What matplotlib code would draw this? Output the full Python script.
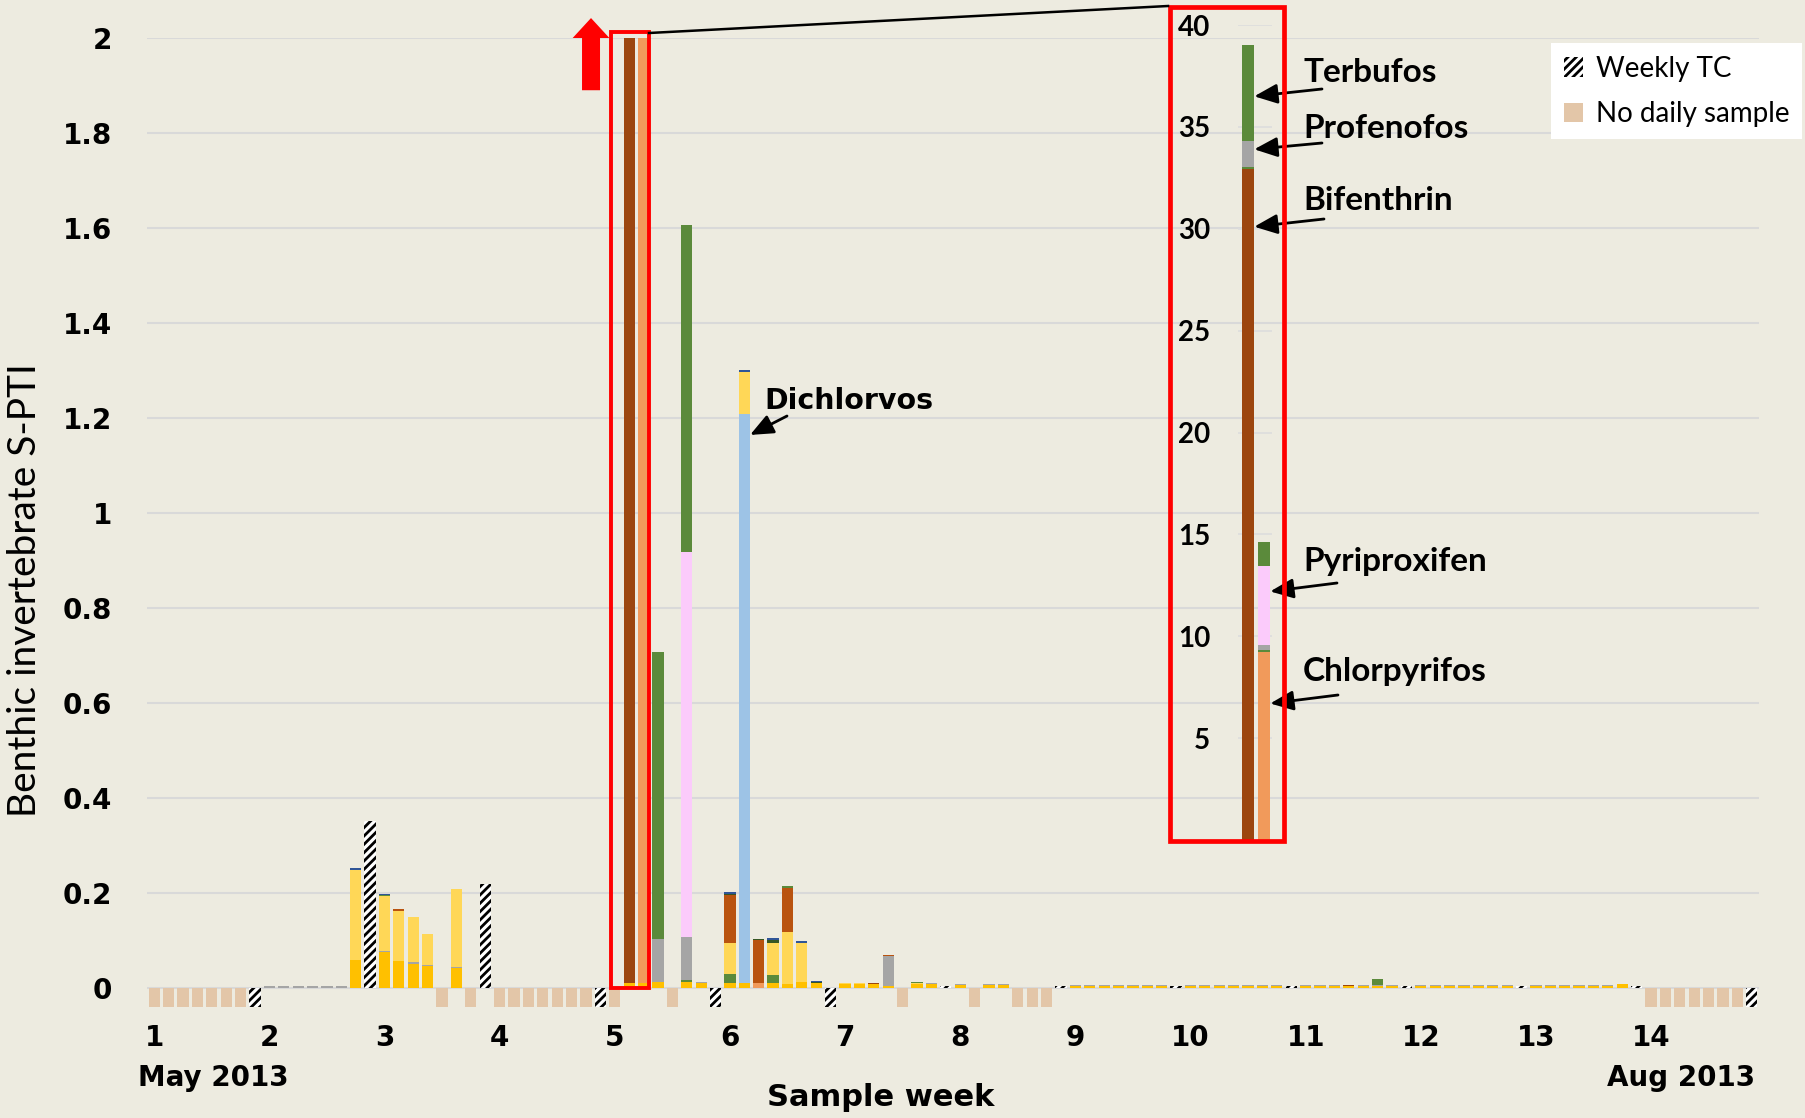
import numpy as np
import matplotlib
matplotlib.use('Agg')

import matplotlib.pyplot as plt
from matplotlib.patches import Rectangle, FancyArrow, Patch
from matplotlib.lines import Line2D

# ==========================
# Dados: 8 posições por semana (7 dias + TC semanal)
# ==========================
n_slots = 112
week_labels = ["1", "2", "3", "4", "5", "6", "7", "8", "9", "10", "11", "12", "13", "14"]
week_pos = [0, 8, 16, 24, 32, 40, 48, 56, 64, 72, 80, 88, 96, 104]

no_sample = [0, 1, 2, 3, 4, 5, 6, 20, 22, 24, 25, 26, 27, 28, 29, 30, 32, 36,
             52, 57, 60, 61, 62, 104, 105, 106, 107, 108, 109, 110]
tc_missing = [7, 31, 39, 47, 111]
tc_values = {15: 0.351, 23: 0.219, 55: 0.004, 63: 0.004, 71: 0.004,
             79: 0.004, 87: 0.004, 95: 0.004, 103: 0.004}

# dias das semanas 9-13 com valores muito baixos
trace_days = [64, 65, 66, 67, 68, 69, 70, 72, 73, 74, 75, 76, 77, 78,
              80, 81, 82, 83, 84, 85, 86, 88, 89, 90, 91, 92, 93, 94,
              96, 97, 98, 99, 100, 101, 102]
trace_gold = [0.004, 0.004, 0.004, 0.004, 0.004, 0.004, 0.004, 0.004, 0.004, 0.004, 0.004, 0.004,
              0.004, 0.004, 0.004, 0.004, 0.004, 0.003, 0.004, 0.004, 0.004, 0.004, 0.004, 0.004,
              0.004, 0.004, 0.004, 0.004, 0.004, 0.004, 0.004, 0.004, 0.004, 0.004, 0.007]
trace_gray = [0.002, 0.002, 0.002, 0.002, 0.002, 0.002, 0.002, 0.002, 0.002, 0.002, 0.002, 0.002,
              0.002, 0.002, 0.002, 0.002, 0.002, 0.000, 0.002, 0.001, 0.002, 0.002, 0.002, 0.002,
              0.002, 0.002, 0.002, 0.002, 0.002, 0.002, 0.002, 0.002, 0.002, 0.002, 0.000]

# componentes empilhados (de baixo para cima)
gold = {14: 0.058, 16: 0.075, 17: 0.056, 18: 0.05, 19: 0.046, 21: 0.041, 33: 0.01, 34: 0.01,
        35: 0.012, 37: 0.012, 38: 0.01, 40: 0.009, 41: 0.01, 43: 0.009, 44: 0.007, 45: 0.012,
        46: 0.01, 48: 0.007, 49: 0.007, 50: 0.007, 51: 0.003, 53: 0.007, 54: 0.007, 56: 0.006,
        58: 0.006, 59: 0.006}
chlorpyrifos = {34: 9.2, 42: 0.009}
bifenthrin = {33: 32.9, 50: 0.002, 83: 0.002}
green_low = {33: 0.1, 34: 0.1, 37: 0.005, 40: 0.019, 43: 0.017}
profenofos = {8: 0.004, 9: 0.004, 10: 0.004, 11: 0.004, 12: 0.004, 13: 0.004, 16: 0.003,
              18: 0.003, 19: 0.002, 21: 0.003, 33: 1.3, 34: 0.25, 35: 0.09, 37: 0.09,
              38: 0.002, 51: 0.063, 54: 0.002, 56: 0.002, 58: 0.002, 59: 0.002}
pyriproxifen = {34: 3.9, 37: 0.81}
dichlorvos = {41: 1.198}
yellow = {14: 0.19, 16: 0.115, 17: 0.105, 18: 0.096, 19: 0.064, 21: 0.163, 40: 0.067,
          41: 0.089, 43: 0.068, 44: 0.11, 45: 0.081, 48: 0.002, 49: 0.002, 53: 0.003}
brown2 = {17: 0.004, 40: 0.1, 42: 0.091, 44: 0.093, 51: 0.003}
terbufos = {16: 0.002, 33: 4.7, 34: 1.15, 35: 0.605, 37: 0.69, 44: 0.004, 53: 0.002, 85: 0.014}
dkgreen = {40: 0.003, 42: 0.003, 43: 0.007, 46: 0.002}
dkblue = {14: 0.004, 16: 0.003, 40: 0.003, 41: 0.004, 43: 0.003, 45: 0.005, 46: 0.003}

for d, v1, v2 in zip(trace_days, trace_gold, trace_gray):
    gold[d] = v1
    if v2 > 0:
        profenofos[d] = v2

series = [
    (gold, "#FFC000"),
    (chlorpyrifos, "#F19A5B"),
    (bifenthrin, "#9C460F"),
    (green_low, "#5B8A3B"),
    (profenofos, "#A5A5A5"),
    (pyriproxifen, "#FBCBFB"),
    (dichlorvos, "#9DC3E6"),
    (yellow, "#FFD757"),
    (brown2, "#B9530F"),
    (terbufos, "#5B8A3B"),
    (dkgreen, "#375623"),
    (dkblue, "#2F5597"),
]

bg = "#EDEBE0"
nosample_color = "#E3C6A8"
plt.rcParams['hatch.linewidth'] = 2.0
hatch = "////"

W, H = 1806, 1118


def fx(px):
    return px / W


def fy(py):
    return 1 - py / H


def to_array(d):
    a = np.zeros(n_slots)
    for k, v in d.items():
        a[k] = v
    return a


x = np.arange(n_slots)
bar_w = 0.78

fig = plt.figure(figsize=(W / 100, H / 100), dpi=100, facecolor=bg)
ax = fig.add_axes([fx(147), fy(1009), fx(1759) - fx(147), fy(38) - fy(1009)])
ax.set_facecolor(bg)

# barras empilhadas
bottom = np.zeros(n_slots)
for d, c in series:
    vals = to_array(d)
    m = vals > 0
    ax.bar(x[m], vals[m], bottom=bottom[m], width=bar_w, color=c, linewidth=0, zorder=3)
    bottom += vals

# sem amostra diária
ax.bar(no_sample, [-0.04] * len(no_sample), width=bar_w, color=nosample_color,
       linewidth=0, zorder=3)
# TC semanal
ax.bar(tc_missing, [-0.04] * len(tc_missing), width=bar_w, facecolor="white",
       edgecolor="black", hatch=hatch, linewidth=0, zorder=3)
ax.bar(list(tc_values.keys()), list(tc_values.values()), width=bar_w, facecolor="white",
       edgecolor="black", hatch=hatch, linewidth=0, zorder=3)

ax.set_xlim(-0.5, 111.5)
ax.set_ylim(-0.045, 2.0)
ytick_vals = [0, 0.2, 0.4, 0.6, 0.8, 1.0, 1.2, 1.4, 1.6, 1.8, 2.0]
ytick_labels = ["0", "0.2", "0.4", "0.6", "0.8", "1", "1.2", "1.4", "1.6", "1.8", "2"]
ax.set_yticks(ytick_vals)
ax.set_yticklabels(ytick_labels, fontsize=20, fontweight="bold", family="DejaVu Sans")
ax.set_xticks(week_pos)
ax.set_xticklabels(week_labels, fontsize=20, fontweight="bold", family="DejaVu Sans")
ax.tick_params(axis="y", length=0, pad=25)
ax.tick_params(axis="x", length=0, pad=11)
ax.grid(axis="y", color="#D9D9D9", linewidth=1.5, zorder=0)
ax.set_axisbelow(True)
for s in ax.spines.values():
    s.set_visible(False)

fig.text(fx(213), fy(1078), "May 2013", ha="center", va="center", fontsize=20,
         fontweight="bold", family="DejaVu Sans")
fig.text(fx(1681), fy(1078), "Aug 2013", ha="center", va="center", fontsize=20,
         fontweight="bold", family="DejaVu Sans")
fig.text(fx(881), fy(1098), "Sample week", ha="center", va="center", fontsize=22,
         fontweight="bold", family="DejaVu Sans")
fig.text(fx(25), fy(590), "Benthic invertebrate S-PTI", rotation=90, ha="center",
         va="center", fontsize=28, family=["Lato", "DejaVu Sans"])

# legenda
handles = [Patch(facecolor="white", edgecolor="black", hatch=hatch, linewidth=0),
           Patch(facecolor=nosample_color, linewidth=0)]
leg = ax.legend(handles, ["Weekly TC", "No daily sample"], loc="upper right",
                bbox_to_anchor=(fx(1802), fy(43)), bbox_transform=fig.transFigure,
                frameon=True, facecolor="white", edgecolor="none", fancybox=False,
                framealpha=1, prop={"family": "Lato", "size": 20},
                handlelength=0.7, handleheight=0.7, handletextpad=0.45,
                borderpad=0.45, labelspacing=0.7, borderaxespad=0)

# caixa vermelha e seta no gráfico principal
ax.add_patch(Rectangle((31.75, 0), 2.65, 2.012, fill=False, edgecolor="red",
                       linewidth=2.8, clip_on=False, zorder=5))
ax.add_patch(FancyArrow(30.35, 1.89, 0, 0.152, width=1.25, head_width=2.55,
                        head_length=0.042, length_includes_head=True, color="red",
                        linewidth=0, clip_on=False, zorder=5))

# Dichlorvos
ax.annotate("", xy=(41.4, 1.164), xytext=(fx(787), fy(416)), textcoords="figure fraction",
            arrowprops=dict(arrowstyle="-|>,head_length=0.7,head_width=0.3", color="black",
                            lw=2, mutation_scale=20, shrinkA=0, shrinkB=0), zorder=6)
fig.text(fx(764), fy(401), "Dichlorvos", ha="left", va="center", fontsize=20.5,
         fontweight="bold", family="DejaVu Sans")

# ==========================
# Inset (escala 0-40)
# ==========================
axin = fig.add_axes([fx(1238), fy(840), fx(1272) - fx(1238), fy(25) - fy(840)])
axin.patch.set_alpha(0)
xi = np.array([0, 1])
zoom_slots = [33, 34]
bot = np.zeros(2)
for d, c in series:
    vals = to_array(d)[zoom_slots]
    axin.bar(xi, vals, bottom=bot, width=bar_w, color=c, linewidth=0, zorder=3)
    bot += vals
axin.set_xlim(-0.625, 1.5)
axin.set_ylim(0, 40)
axin.set_yticks([5, 10, 15, 20, 25, 30, 35, 40])
axin.set_yticklabels(["5", "10", "15", "20", "25", "30", "35", "40"], fontsize=20,
                     fontweight="bold", family="Lato")
axin.set_xticks([])
axin.tick_params(axis="y", length=0, pad=20)
axin.grid(axis="y", color="#DDDDDD", linewidth=1.2, zorder=0)
axin.set_axisbelow(True)
for s in axin.spines.values():
    s.set_visible(False)

fig.add_artist(Rectangle((fx(1170), fy(841)), fx(1284) - fx(1170), fy(7) - fy(841),
                         transform=fig.transFigure, fill=False, edgecolor="red",
                         linewidth=3.4, zorder=5))
fig.add_artist(Line2D([fx(649), fx(1168)], [fy(33), fy(6)], transform=fig.transFigure,
                      color="black", linewidth=1.8, zorder=5))

labels_in = [
    ("Terbufos", 72, (0.39, 36.5), (1322, 89)),
    ("Profenofos", 128, (0.39, 33.9), (1322, 143)),
    ("Bifenthrin", 200, (0.39, 30.1), (1324, 219)),
    ("Pyriproxifen", 561, (1.39, 12.2), (1337, 583)),
    ("Chlorpyrifos", 672, (1.39, 6.7), (1338, 695)),
]
for name, ty, head, tail in labels_in:
    fig.text(fx(1303), fy(ty), name, ha="left", va="center", fontsize=24,
             fontweight="bold", family="Lato")
    axin.annotate("", xy=head, xytext=(fx(tail[0]), fy(tail[1])),
                  textcoords="figure fraction", annotation_clip=False,
                  arrowprops=dict(arrowstyle="-|>,head_length=0.7,head_width=0.3",
                                  color="black", lw=2, mutation_scale=20,
                                  shrinkA=0, shrinkB=0))

fig.savefig("out.png", dpi=100, facecolor=bg)
plt.close(fig)
